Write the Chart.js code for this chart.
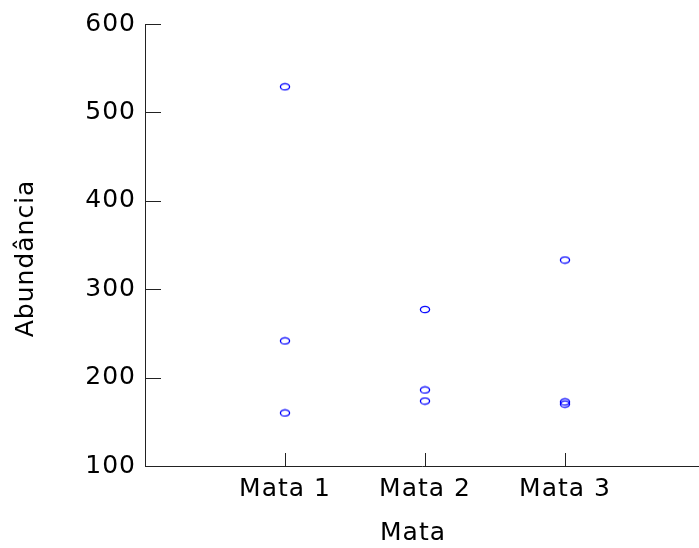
<!DOCTYPE html>
<html>
<head>
<meta charset="utf-8">
<script src="https://cdn.jsdelivr.net/npm/chart.js@4/dist/chart.umd.min.js"></script>
<style>
  html, body { margin: 0; padding: 0; background: #fff; }
  #wrap { width: 699px; height: 548px; }
</style>
</head>
<body>
<div id="wrap"><canvas id="c" width="699" height="548"></canvas></div>
<script>
const categories = ["Mata 1", "Mata 2", "Mata 3"];
const mata1 = [529, 241.5, 160];
const mata2 = [277, 186, 173.5];
const mata3 = [333, 172.5, 170];
const yTicks = [100, 200, 300, 400, 500, 600];
const xTitle = "Mata";
const yTitle = "Abundância";

const seriesByCat = [mata1, mata2, mata3];
const points = [];
seriesByCat.forEach((vals, i) => vals.forEach(v => points.push({ x: i + 1, y: v })));

// ellipse marker
const mk = document.createElement('canvas');
mk.width = 12; mk.height = 9;
(function () {
  const g = mk.getContext('2d');
  g.strokeStyle = '#0000ff';
  g.lineWidth = 1.3;
  g.beginPath();
  g.ellipse(6, 4.5, 4.6, 3.2, 0, 0, Math.PI * 2);
  g.stroke();
})();

const FONT = { family: "'DejaVu Sans', sans-serif", size: 25 };
const LS = '1px';

const spacingPlugin = {
  id: 'spacing',
  beforeUpdate(chart) { chart.ctx.letterSpacing = LS; },
  beforeDraw(chart) { chart.ctx.letterSpacing = LS; }
};

const innerTicks = {
  id: 'innerTicks',
  afterDraw(chart) {
    const ctx = chart.ctx;
    const xs = chart.scales.x, ys = chart.scales.y;
    ctx.save();
    ctx.strokeStyle = '#222';
    ctx.lineWidth = 1;
    ctx.beginPath();
    ys.ticks.forEach(t => {
      const py = Math.round(ys.getPixelForValue(t.value)) + 0.5;
      ctx.moveTo(xs.left, py);
      ctx.lineTo(xs.left + 16, py);
    });
    xs.ticks.forEach(t => {
      const px = Math.round(xs.getPixelForValue(t.value)) + 0.5;
      ctx.moveTo(px, ys.bottom);
      ctx.lineTo(px, ys.bottom - 13);
    });
    ctx.stroke();
    ctx.restore();
  }
};

new Chart(document.getElementById('c'), {
  type: 'scatter',
  data: {
    datasets: [{
      data: points,
      pointStyle: mk,
      pointRadius: 5,
      pointHoverRadius: 5
    }]
  },
  options: {
    responsive: false,
    animation: false,
    events: [],
    layout: { autoPadding: false, padding: { top: 24, right: 0, left: 0, bottom: 0 } },
    plugins: { legend: { display: false }, tooltip: { enabled: false } },
    scales: {
      x: {
        type: 'linear',
        min: 0,
        max: (699 - 145) / 140,
        afterBuildTicks(s) { s.ticks = categories.map((c, i) => ({ value: i + 1 })); },
        afterFit(s) { s.height = 82; s.paddingRight = 0; s.paddingLeft = 0; },
        grid: { display: false, drawTicks: false },
        border: { display: true, color: '#222', width: 1 },
        ticks: {
          color: '#000',
          font: FONT,
          padding: 8,
          maxRotation: 0,
          autoSkip: false,
          callback: (v) => categories[v - 1] || ''
        },
        title: { display: true, text: xTitle + '  ', color: '#000', font: FONT, padding: { top: 0, bottom: 0 } }
      },
      y: {
        type: 'linear',
        min: 100,
        max: 600,
        afterBuildTicks(s) { s.ticks = yTicks.map(v => ({ value: v })); },
        afterFit(s) { s.width = 145; s.paddingTop = 0; s.paddingBottom = 0; },
        grid: { display: false, drawTicks: false },
        border: { display: true, color: '#222', width: 1 },
        ticks: { color: '#000', font: FONT, padding: 9 },
        title: { display: true, text: yTitle + '   ', color: '#000', font: FONT, padding: { top: 11, bottom: 0 } }
      }
    }
  },
  plugins: [spacingPlugin, innerTicks]
});
</script>
</body>
</html>
